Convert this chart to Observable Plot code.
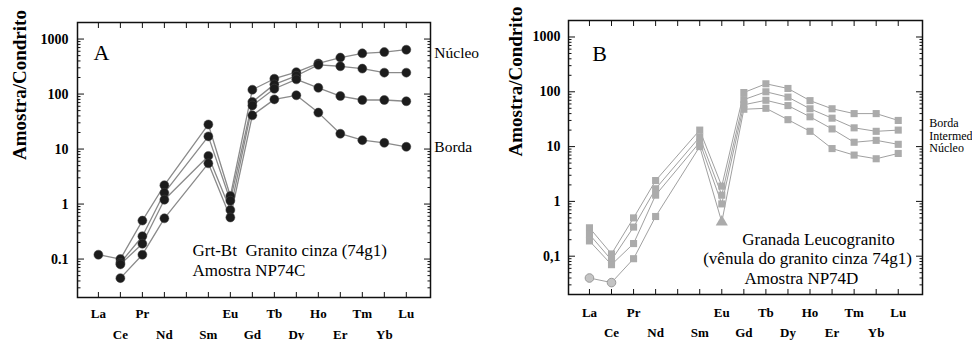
<!DOCTYPE html>
<html><head><meta charset="utf-8">
<script src="https://cdn.jsdelivr.net/npm/d3@7"></script>
<script src="https://cdn.jsdelivr.net/npm/@observablehq/plot@0.6"></script>
<style>
body{margin:0;background:#fff;}
#wrap{display:flex;width:972px;height:340px;overflow:hidden;background:#fff;}
#wrap svg{flex:none;}
</style></head><body><div id="wrap"></div>
<script>
// ---- categories ----
const ree = ["La","Ce","Pr","Nd","Pm","Sm","Eu","Gd","Tb","Dy","Ho","Er","Tm","Yb","Lu"];
const analysed = ["La","Ce","Pr","Nd","Sm","Eu","Gd","Tb","Dy","Ho","Er","Tm","Yb","Lu"];
const labelRowTop = ["La","Pr","Eu","Tb","Ho","Tm","Lu"];
const labelRowBottom = ["Ce","Nd","Sm","Gd","Dy","Er","Yb"];

// ---- y tick labels ----
const yTicks = [2000, 1000, 100, 10, 1, 0.1, 0.02];
const yTickLabelsA = ["2000","1000","100","10","1","0.1",".02"];
const yTickLabelsB = ["2000","1000","100","10","1","0,1",".02"];

// ---- panel A: Grt-Bt Granito cinza (74g1), amostra NP74C ----
const aNucleo  = [0.12, 0.10, 0.50, 2.2, 28, 1.4, 120, 190, 250, 360, 460, 550, 580, 640];
const aSerie2  = [null, 0.085, 0.26, 1.6, 17, 1.15, 72, 150, 215, 340, 320, 290, 245, 245];
const aSerie3  = [null, 0.08, 0.19, 1.2, 7.5, 0.78, 62, 125, 185, 130, 92, 78, 78, 74];
const aBorda   = [null, 0.045, 0.12, 0.55, 5.5, 0.57, 41, 80, 95, 46, 19, 14.5, 13, 11];

// ---- panel B: Granada Leucogranito, amostra NP74D ----
const bBorda         = [0.33, 0.11, 0.50, 2.4, 20, 1.9, 97, 140, 115, 69, 49, 40, 40, 30];
const bIntermediario = [0.25, 0.085, 0.34, 1.7, 15, 1.3, 72, 100, 80, 49, 33, 22, 19, 20];
const bNucleo        = [0.19, 0.07, 0.17, 1.3, 12, 0.9, 58, 70, 56, 35, 21, 12, 13, 11];
const bNucleo2       = [0.04, 0.033, 0.09, 0.53, 10, 0.42, 48, 50, 31, 19, 9.2, 7, 6, 7.5];
const bNucleo2Symbols = {La: "circle", Ce: "circle", Eu: "triangle"};

const FONT = "Liberation Serif";
const INK = "#111";
const X_DOMAIN = [-0.95, 15.1];
const Y_DOMAIN = [0.02, 2000];

function toLong(list) {
  return list.flatMap(([name, vals]) =>
    analysed.map((el, i) => ({series: name, el, x: ree.indexOf(el), v: vals[i]}))
      .filter(d => d.v != null));
}

// log minor tick positions
const majorY = [1000, 100, 10, 1, 0.1];
const minorY = [];
for (let e = -2; e <= 3; e++) for (let m = 2; m <= 9; m++) {
  const v = m * Math.pow(10, e);
  if (v >= 0.02 && v <= 2000) minorY.push(+v.toPrecision(3));
}
const xTickIdx = d3.range(ree.length);

function panel(o) {
  const data = toLong(o.series);
  const marks = [
    Plot.line(data, {x: "x", y: "v", z: "series", stroke: o.lineColor, strokeWidth: o.lineWidth}),
    ...o.dots(data),
    Plot.frame({stroke: INK, strokeWidth: 1.5}),
    Plot.axisY(majorY, {anchor: "left", tickSize: -7, stroke: INK, fill: "none", label: null}),
    Plot.axisY(minorY, {anchor: "left", tickSize: -3.5, stroke: INK, fill: "none", label: null}),
    Plot.axisY(majorY, {anchor: "right", tickSize: -7, stroke: INK, fill: "none", label: null}),
    Plot.axisY(minorY, {anchor: "right", tickSize: -3.5, stroke: INK, fill: "none", label: null}),
    Plot.axisX(xTickIdx, {anchor: "bottom", tickSize: -5, stroke: INK, fill: "none", label: null}),
    Plot.axisX(xTickIdx, {anchor: "top", tickSize: -5, stroke: INK, fill: "none", label: null}),
    Plot.axisY(yTicks, {anchor: "left", tickSize: 0, tickPadding: o.tickPad,
      tickFormat: d => o.yLabels[yTicks.indexOf(d)], fontWeight: "bold", fontSize: 14, label: null}),
    Plot.text(labelRowTop, {x: d => ree.indexOf(d), text: d => d, frameAnchor: "bottom", lineAnchor: "middle", dy: o.row1, fontWeight: "bold", fontSize: 13}),
    Plot.text(labelRowBottom, {x: d => ree.indexOf(d), text: d => d, frameAnchor: "bottom", lineAnchor: "middle", dy: o.row2, fontWeight: "bold", fontSize: 13}),
    Plot.text(["Amostra/Condrito"], {frameAnchor: "left", lineAnchor: "middle", rotate: -90, dx: o.ylabDx, dy: o.ylabDy, fontWeight: "bold", fontSize: 19}),
    Plot.text([o.letter], {frameAnchor: "top-left", lineAnchor: "middle", textAnchor: "middle", dx: o.letterDx, dy: o.letterDy, fontSize: 22}),
    ...o.extra
  ];
  return Plot.plot({
    width: 486, height: 340,
    marginLeft: o.ml, marginRight: o.mr, marginTop: o.mt, marginBottom: o.mb,
    x: {type: "linear", domain: X_DOMAIN},
    y: {type: "log", domain: Y_DOMAIN},
    style: {fontFamily: FONT, fontSize: "12px", color: "#000", background: "#fff"},
    marks
  });
}

const lastIdx = ree.indexOf("Lu");
const lastVal = arr => arr[arr.length - 1];
const note = (text, dx, dy, size, anchor) =>
  Plot.text([text], {frameAnchor: "bottom-left", lineAnchor: "middle", textAnchor: anchor, dx, dy, fontSize: size});

const svgA = panel({
  series: [["Núcleo", aNucleo], ["s2", aSerie2], ["s3", aSerie3], ["Borda", aBorda]],
  lineColor: "#8a8a8a", lineWidth: 1.3,
  dots: data => [Plot.dot(data, {x: "x", y: "v", r: 4.5, fill: "#1c1c1c", stroke: "#444", strokeWidth: 0.5})],
  yLabels: yTickLabelsA, tickPad: 9,
  ml: 77, mr: 56, mt: 22, mb: 43,
  row1: 16, row2: 37,
  ylabDx: -57.5, ylabDy: 0,
  letter: "A", letterDx: 24, letterDy: 30,
  extra: [
    Plot.text(["Núcleo"], {x: lastIdx, y: lastVal(aNucleo), dx: 28, dy: 3, textAnchor: "start", lineAnchor: "middle", fontSize: 15.5}),
    Plot.text(["Borda"], {x: lastIdx, y: lastVal(aBorda), dx: 28, dy: 0, textAnchor: "start", lineAnchor: "middle", fontSize: 15.5}),
    note("Grt-Bt  Granito cinza (74g1)", 115, -47, 17, "start"),
    note("Amostra NP74C", 115, -27, 17, "start")
  ]
});

const bGray = "#ababab";
const svgB = panel({
  series: [["Borda", bBorda], ["Intermediário", bIntermediario], ["Núcleo", bNucleo], ["Núcleo 2", bNucleo2]],
  lineColor: "#a0a0a0", lineWidth: 1,
  dots: data => [
    Plot.dot(data.filter(d => !(d.series === "Núcleo 2" && bNucleo2Symbols[d.el])),
      {x: "x", y: "v", symbol: "square", r: 4, fill: bGray}),
    Plot.dot(data.filter(d => d.series === "Núcleo 2" && bNucleo2Symbols[d.el] === "circle"),
      {x: "x", y: "v", symbol: "circle", r: 4.3, fill: "#c4c4c4", stroke: "#9a9a9a", strokeWidth: 1}),
    Plot.dot(data.filter(d => d.series === "Núcleo 2" && bNucleo2Symbols[d.el] === "triangle"),
      {x: "x", y: "v", symbol: "triangle", r: 4.5, fill: bGray})
  ],
  yLabels: yTickLabelsB, tickPad: 8,
  ml: 82, mr: 50, mt: 20, mb: 46,
  row1: 18, row2: 38,
  ylabDx: -53, ylabDy: -1,
  letter: "B", letterDx: 31, letterDy: 33,
  extra: [
    Plot.text(["Borda"], {x: lastIdx, y: lastVal(bBorda), dx: 31, dy: 3, textAnchor: "start", lineAnchor: "middle", fontSize: 12}),
    Plot.text(["Intermediário"], {x: lastIdx, y: lastVal(bIntermediario), dx: 31, dy: 6, textAnchor: "start", lineAnchor: "middle", fontSize: 12}),
    Plot.text(["Núcleo"], {x: lastIdx, y: lastVal(bNucleo), dx: 31, dy: 4, textAnchor: "start", lineAnchor: "middle", fontSize: 12}),
    note("Granada Leucogranito", 250, -55, 17, "middle"),
    note("(vênula do granito cinza 74g1)", 239, -36, 17, "middle"),
    note("Amostra NP74D", 233, -16, 17, "middle")
  ]
});

const wrap = document.getElementById("wrap");
wrap.appendChild(svgA);
wrap.appendChild(svgB);
</script></body></html>
